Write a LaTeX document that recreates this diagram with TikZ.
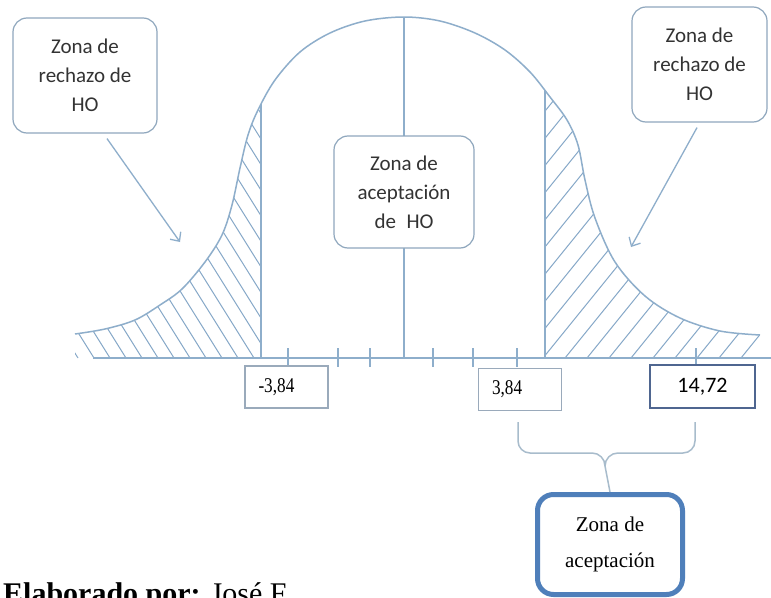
\documentclass[tikz,border=0pt]{standalone}
\usepackage{fontspec}
\setmainfont{Liberation Serif}
\newfontfamily\calib{Carlito}
\newfontfamily\valfont[FakeStretch=0.82]{Liberation Serif}
\usetikzlibrary{arrows.meta,calc}
\definecolor{ln}{HTML}{8EAECB}
\definecolor{hl}{HTML}{86A8C8}
\definecolor{bx}{HTML}{8FA7BD}
\definecolor{txt}{HTML}{333333}
\definecolor{vb}{HTML}{9AAABB}
\definecolor{vdark}{HTML}{4F6690}
\definecolor{accb}{HTML}{4F7FBA}
\definecolor{brc}{HTML}{A8BCCC}
\begin{document}
\begin{tikzpicture}[x=1pt,y=-1pt,
  curvestyle/.style={draw=ln, line width=1.5pt},
  hatchline/.style={draw=hl, line width=1pt},
  axisline/.style={draw=ln, line width=1.5pt},
  tickline/.style={draw=ln, line width=1.2pt},
  zbox/.style={draw=bx, line width=1.2pt, rounded corners=14pt, fill=white, align=center,
    font=\calib\fontsize{21}{29}\selectfont, text=txt, inner sep=0pt},
  valbox/.style={draw=vb, line width=1.2pt, fill=white, minimum height=42, minimum width=83,
    text width=56, align=left, font=\valfont\fontsize{21}{22}\selectfont, inner sep=0pt, text=black},
  darkbox/.style={draw=vdark, line width=1.5pt, fill=white, minimum height=43, minimum width=105,
    align=center, font=\calib\fontsize{22}{24}\selectfont, inner sep=0pt, text=black},
  accbox/.style={draw=accb, line width=5pt, rounded corners=16pt, fill=white,
    minimum width=145, minimum height=100, align=center, font=\fontsize{21}{36}\selectfont, inner sep=0pt},
  arr/.style={draw=ln, line width=1.3pt, -{Straight Barb[length=7pt,width=13pt]}},
  bracestyle/.style={draw=brc, line width=1.5pt}
]
\clip (0,0) rectangle (771,597);
\fill[white] (0,0) rectangle (771,597);

% left hatch
\begin{scope}
\clip (0,0) rectangle (261,358);
\clip plot[smooth, tension=0.55] coordinates {(75,334) (105,329) (135,320) (160,305) (182,289) (205,262) (222,235) (232,205) (240,168) (248,135) (258,110) (275,80) (300,52) (330,33) (365,21) (404,17) (440,21) (475,33) (505,50) (530,72) (550,97) (567,120) (578,145) (585,180) (595,218) (615,262) (645,296) (680,318) (720,331) (760,335)} -- (760,358) -- (75,358) -- cycle;
\foreach \x in {78,94,...,500} \draw[hatchline] (\x,358) -- ++(-224,-358);
\end{scope}
% right hatch
\begin{scope}
\clip (545,0) rectangle (771,358);
\clip plot[smooth, tension=0.55] coordinates {(75,334) (105,329) (135,320) (160,305) (182,289) (205,262) (222,235) (232,205) (240,168) (248,135) (258,110) (275,80) (300,52) (330,33) (365,21) (404,17) (440,21) (475,33) (505,50) (530,72) (550,97) (567,120) (578,145) (585,180) (595,218) (615,262) (645,296) (680,318) (720,331) (760,335)} -- (760,358) -- (75,358) -- cycle;
\foreach \x in {257,279,...,790} \draw[hatchline] (\x,358) -- ++(290,-358);
\end{scope}

% bell curve
\draw[curvestyle] plot[smooth, tension=0.55] coordinates {(75,334) (105,329) (135,320) (160,305) (182,289) (205,262) (222,235) (232,205) (240,168) (248,135) (258,110) (275,80) (300,52) (330,33) (365,21) (404,17) (440,21) (475,33) (505,50) (530,72) (550,97) (567,120) (578,145) (585,180) (595,218) (615,262) (645,296) (680,318) (720,331) (760,335)};

% coordinates
\coordinate (ltop) at (261,104);
\coordinate (lbot) at (261,358);
\coordinate (ctop) at (404,17);
\coordinate (cbot) at (404,358);
\coordinate (rtop) at (545,90);
\coordinate (rbot) at (545,358);
\coordinate (axl) at (93,358);
\coordinate (axr) at (771,358);

\draw[axisline] (ltop) -- (lbot);
\draw[axisline] (ctop) -- (cbot);
\draw[axisline] (rtop) -- (rbot);
\draw[axisline] (axl) -- (axr);
\foreach \x in {288,338,370,433,473,517,696} \draw[tickline] (\x,348) -- (\x,367);

% boxes
\node[zbox, minimum width=144, minimum height=115] (zl) at (85,75.5) {Zona de\\rechazo de\\HO};
\node[zbox, minimum width=135, minimum height=115] (zr) at (699.5,64.5) {Zona de\\rechazo de\\HO};
\node[zbox, minimum width=140, minimum height=112] (zc) at (404,192) {Zona de\\aceptación\\de\enspace HO};

\node[valbox] (v1) at (286.5,387) {-3,84};
\node[valbox] (v2) at (520,389.5) {3,84};
\node[darkbox] (v3) at (702.5,386.5) {14,72};

\node[accbox] (acc) at (610,544.5) {Zona de\\aceptación};

% arrows
\coordinate (la) at (180,242);
\coordinate (ra) at (631,247);
\draw[arr] ($(zl.south)+(22,5)$) -- (la);
\draw[arr] ($(zr.south)+(-2.5,5)$) -- (ra);

% brace
\coordinate (bl) at (518,422);
\coordinate (br) at (695,422);
\coordinate (bm) at (605,466);
\draw[bracestyle] (bl) -- (518,441) to[out=-90,in=180] (530,453) -- (592,453) to[out=0,in=90] (bm) -- (acc.north);
\draw[bracestyle] (br) -- (695,441) to[out=-90,in=0] (683,453) -- (618,453) to[out=180,in=90] (bm);

% footer text (cut off at the lower edge, as in the reference)
\node[anchor=base west, inner sep=0pt, font=\fontsize{30}{30}\selectfont] (elab) at (3,603) {\textbf{Elaborado por:} José F};
\end{tikzpicture}
\end{document}
